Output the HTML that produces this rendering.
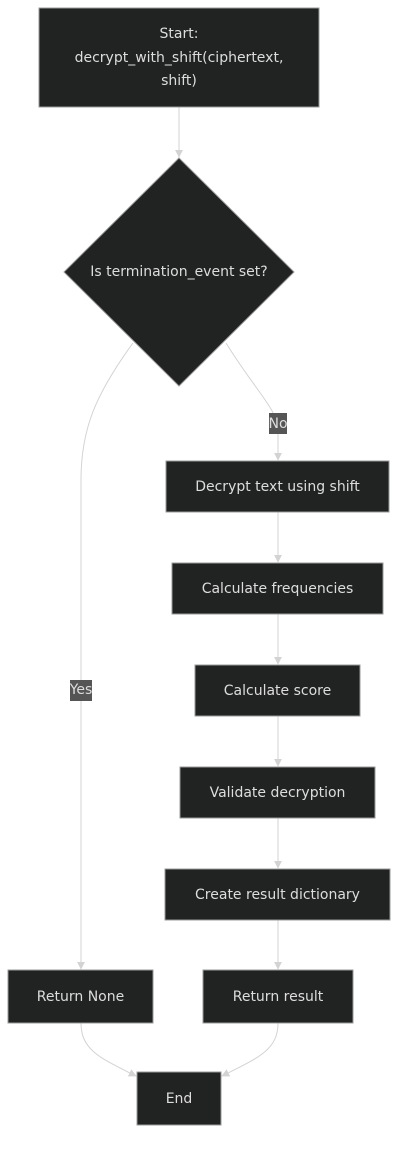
<!DOCTYPE html>
<html><head><style>
body{margin:0;background:#fff;}
svg{display:block}
text{font-family:"DejaVu Sans","Liberation Sans",sans-serif;font-size:14px;fill:#ddd;text-anchor:middle;dominant-baseline:central}
.n{fill:#212322;stroke:#999;stroke-width:1}
.e{fill:none;stroke:#d3d3d3;stroke-width:1}
</style></head><body>
<svg width="407" height="1156" viewBox="0 0 407 1156">
<defs><marker id="a" viewBox="0 0 10 10" refX="9" refY="5" markerWidth="8" markerHeight="8" orient="auto"><path d="M0,0L10,5L0,10z" fill="#d3d3d3"/></marker></defs>
<path class="e" d="M179,107V157" marker-end="url(#a)"/>
<path class="e" d="M133,343C95,395 81,430 81,480V969" marker-end="url(#a)"/>
<path class="e" d="M226,343C255,390 278,410 278,430V460" marker-end="url(#a)"/>
<path class="e" d="M278,512V562" marker-end="url(#a)"/>
<path class="e" d="M278,614V664" marker-end="url(#a)"/>
<path class="e" d="M278,716V766" marker-end="url(#a)"/>
<path class="e" d="M278,818V868" marker-end="url(#a)"/>
<path class="e" d="M278,920V969" marker-end="url(#a)"/>
<path class="e" d="M81,1023C81,1050 100,1058 136,1076" marker-end="url(#a)"/>
<path class="e" d="M278,1023C278,1050 258,1058 222,1076" marker-end="url(#a)"/>
<rect class="n" x="39" y="8" width="280" height="99"/>
<text x="179" y="34">Start:</text>
<text x="179" y="58">decrypt_with_shift(ciphertext,</text>
<text x="179" y="81">shift)</text>
<polygon class="n" points="179,158 294,272 179,386 64,272"/>
<text x="179" y="272">Is termination_event set?</text>
<rect x="269" y="413" width="18" height="21" fill="#555"/>
<text x="278" y="424">No</text>
<rect x="70" y="680" width="22" height="21" fill="#555"/>
<text x="81" y="690">Yes</text>
<rect class="n" x="166" y="461" width="223" height="51"/><text x="277.5" y="487">Decrypt text using shift</text>
<rect class="n" x="172" y="563" width="211" height="51"/><text x="277.5" y="589">Calculate frequencies</text>
<rect class="n" x="195" y="665" width="165" height="51"/><text x="277.5" y="691">Calculate score</text>
<rect class="n" x="180" y="767" width="195" height="51"/><text x="277.5" y="793">Validate decryption</text>
<rect class="n" x="165" y="869" width="225" height="51"/><text x="277.5" y="895">Create result dictionary</text>
<rect class="n" x="8" y="970" width="145" height="53"/><text x="80.5" y="997">Return None</text>
<rect class="n" x="203" y="970" width="150" height="53"/><text x="278" y="997">Return result</text>
<rect class="n" x="137" y="1072" width="84" height="53"/><text x="179" y="1099">End</text>
</svg>
</body></html>
